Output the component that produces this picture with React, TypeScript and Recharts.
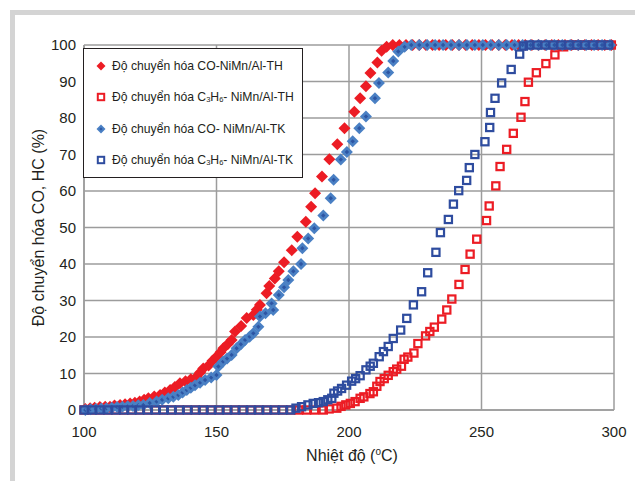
import React from "react";
import {
  ScatterChart,
  Scatter,
  XAxis,
  YAxis,
  CartesianGrid,
  Legend,
} from "recharts";

document.body.style.margin = "0";

// [temperature °C, conversion %]
const coTh: [number, number][] = [
  [100.5, 0.3], [102.3, 0.5], [104, 0.6], [106, 0.8], [108, 0.9], [109.8, 0.9],
  [111.5, 1.2], [113.6, 1.4], [115.5, 1.6], [117.4, 1.8], [119.2, 2.0], [121, 2.3],
  [122.7, 2.8], [124.3, 3.2], [126.5, 3.7], [128.7, 4.1], [130.5, 4.8], [132.5, 5.5],
  [134.3, 6.3], [136.2, 7.3], [138.3, 7.9], [140.3, 8.4], [142.5, 9.1], [143.8, 10.3],
  [145, 11.4], [147, 12.2], [148.5, 13.5], [150, 14.6], [151.5, 15.8], [152.6, 16.9],
  [154.3, 18.1], [155.7, 19.2], [157, 21.5], [159.3, 23], [161.4, 25.2], [163.9, 26],
  [165.2, 27.5], [166.4, 28.8], [168.9, 32], [169.9, 34], [172, 36], [173.5, 38],
  [175.5, 40.5], [178.4, 43.8], [180.5, 47.5], [183.7, 51.6], [185.7, 55.7], [187.2, 59.4],
  [189.8, 64], [192.6, 68.7], [195.6, 72.8], [198.3, 77.2], [202, 81.7], [204.2, 85.4],
  [206.4, 88.7], [208.1, 92.3], [210.7, 95.2], [212.3, 98.4], [214.2, 99.5], [216.5, 100],
  [219, 100], [221.5, 100], [224, 100], [226.5, 100], [229, 100], [231.5, 100],
  [234, 100], [236.5, 100], [239, 100], [241.5, 100], [244, 100], [246.5, 100],
  [249, 100], [251.5, 100], [254, 100], [256.5, 100], [259, 100], [261.5, 100],
  [264, 100], [266.5, 100], [269, 100], [271.5, 100], [274, 100], [276.5, 100],
  [279, 100], [281.5, 100], [284, 100], [286.5, 100], [289, 100], [291.5, 100],
  [294, 100], [296.5, 100], [299, 100],
];

const c3Th: [number, number][] = [
  [100, 0], [103, 0], [106, 0], [109, 0], [112, 0], [115, 0], [118, 0], [121, 0],
  [124, 0], [127, 0], [130, 0], [133, 0], [136, 0], [139, 0], [142, 0], [145, 0],
  [148, 0], [151, 0], [154, 0], [157, 0], [160, 0], [163, 0], [166, 0], [169, 0],
  [172, 0], [175, 0], [178, 0], [181, 0], [184, 0], [187, 0],
  [190.3, 0], [192.5, 0.3], [195.4, 0.5], [197, 1.0], [198.8, 1.4], [200.5, 1.8],
  [202.3, 2.3], [204.2, 3.2], [205.6, 3.6], [207.9, 4.5], [209.2, 5], [210.5, 6.5],
  [211.7, 7.8], [213.3, 8.6], [214.8, 9.5], [216.7, 10.5], [218, 11.2], [219.8, 12],
  [220.8, 13.9], [222.2, 14.5], [224.5, 15.6], [226, 18.2], [228.9, 20.3], [230.5, 21.5],
  [232.2, 22.7], [235, 24.9], [236.9, 27.4], [238.8, 30.4], [241.5, 34.4], [243.8, 38.5],
  [245.7, 42.7], [248.2, 46.8], [251.9, 51.9], [252.9, 55.9], [255.4, 61.4], [257, 66.7],
  [259.5, 71.4], [262, 75.8], [264.9, 80.2], [266.4, 84.5], [267.7, 89.8], [270.7, 92.4],
  [274.3, 94.9], [277.7, 97.3], [281, 99.5], [284, 100], [287, 100], [290, 100],
  [293, 100], [296, 100], [299, 100],
];

const coTk: [number, number][] = [
  [100.5, 0], [102.5, 0.2], [104.5, 0.3], [106.5, 0.4], [108.5, 0.5], [110.5, 0.6],
  [112.5, 0.8], [114.5, 0.9], [116.5, 1.0], [118.5, 1.1], [120.5, 1.3], [122.4, 1.4],
  [124.8, 1.9], [127.4, 2.3], [129.5, 2.8], [131.8, 3.2], [133.7, 3.6], [135.6, 4.1],
  [137.2, 4.8], [138.8, 5.5], [140.3, 6.1], [141.9, 6.8], [143.8, 7.5], [145.7, 8.2],
  [148, 8.9], [150, 9.6], [150.7, 11.9], [152.5, 13.3], [154, 14.1], [155.7, 15.1],
  [157.6, 16.9], [159.2, 18], [160.8, 19.2], [162.5, 20.1], [163.9, 21], [165.8, 22.8],
  [166.4, 25.6], [168.5, 26.5], [170.8, 29.2], [171.4, 27.4], [173.5, 31.5], [175.5, 33.6],
  [177.1, 35.6], [179, 38], [181.9, 40], [182.4, 44.3], [184.6, 47], [186.9, 49.8],
  [190.3, 53.3], [193.1, 58], [194.2, 63.1], [196.9, 68.6], [199.2, 70.7], [201.4, 73.6],
  [203.9, 77.2], [206.4, 80.4], [209.8, 85.4], [211.3, 89.6], [214.8, 92.5], [216.7, 95.6],
  [218.6, 98.2], [221, 99.5], [223.5, 100], [226.5, 100], [229.5, 100], [232.5, 100],
  [235.5, 100], [238.5, 100], [241.5, 100], [244.5, 100], [247.5, 100], [250.5, 100],
  [253.5, 100], [256.5, 100], [259.5, 100], [262.5, 100], [265.5, 100], [268.5, 100],
  [271.5, 100], [274.5, 100], [277.5, 100], [280.5, 100], [283.5, 100], [286.5, 100],
  [289.5, 100], [292.5, 100], [295.5, 100], [298.5, 100],
];

const c3Tk: [number, number][] = [
  [100, 0], [103, 0], [106, 0], [109, 0], [112, 0], [115, 0], [118, 0], [121, 0],
  [124, 0], [127, 0], [130, 0], [133, 0], [136, 0], [139, 0], [142, 0], [145, 0],
  [148, 0], [151, 0], [154, 0], [157, 0], [160, 0], [163, 0], [166, 0], [169, 0],
  [172, 0], [175, 0], [178, 0],
  [180, 0.5], [182.1, 0.9], [184.5, 1.4], [186.5, 1.8], [188.5, 2.0], [190.3, 2.3],
  [192, 2.8], [193.5, 3.2], [194.3, 4.6], [195.7, 5.2], [197.2, 5.9], [199.1, 6.8],
  [201, 7.9], [202.5, 8.6], [204.2, 9.4], [206.4, 11], [208, 12], [209.2, 12.8],
  [211.4, 14.6], [213, 16], [214.8, 17.4], [216.7, 19.6], [219.5, 21.9], [221.8, 25.1],
  [224.3, 28.8], [227.4, 32.4], [229.7, 37.6], [232.8, 43.2], [234.5, 48.6], [237.5, 52.2],
  [239.4, 56.4], [241.4, 60.1], [244.4, 62.9], [245.4, 66.4], [247.5, 70], [251.3, 73.5],
  [253.1, 77.4], [253.4, 81.5], [255.1, 85.4], [257.6, 89.6], [261.2, 93.3], [264.4, 97.5],
  [265.8, 99.7], [268, 100], [271, 100], [274, 100], [277, 100], [280, 100],
  [283, 100], [286, 100], [289, 100], [292, 100], [295, 100], [298, 100],
];

const xTicks = [100, 150, 200, 250, 300];
const yTicks = [0, 10, 20, 30, 40, 50, 60, 70, 80, 90, 100];

const RED = "#ec1c24";
const BLUE_LIGHT = "#4a80c4";
const BLUE_DARK = "#2d55a3";
const BLUE_SQ = "#2e4c9f";
const GRID = "#9c9c9c";
const TEXT = "#231f20";
const FONT = "'Liberation Sans', Arial, sans-serif";

const toPoints = (rows: [number, number][]) => rows.map(([t, v]) => ({ t, v }));

/* marker shapes */
function diamondPath(cx: number, cy: number, r: number) {
  return `${cx},${cy - r} ${cx + r},${cy} ${cx},${cy + r} ${cx - r},${cy}`;
}

const RedDiamond = (p: any) => (
  <polygon points={diamondPath(p.cx, p.cy, 6)} fill={RED} />
);

const BlueDiamond = (p: any) => (
  <g>
    <polygon points={diamondPath(p.cx, p.cy, 6)} fill={BLUE_LIGHT} />
    <polygon points={diamondPath(p.cx, p.cy, 2.2)} fill={BLUE_DARK} />
  </g>
);

const RedSquare = (p: any) => (
  <rect x={p.cx - 3.6} y={p.cy - 3.6} width={7.2} height={7.2} fill="none" stroke={RED} strokeWidth={2.2} />
);

const BlueSquare = (p: any) => (
  <rect x={p.cx - 3.6} y={p.cy - 3.6} width={7.2} height={7.2} fill="none" stroke={BLUE_SQ} strokeWidth={2.2} />
);

/* legend */
const Sub = ({ children }: { children: React.ReactNode }) => (
  <span style={{ fontSize: 7.5, position: "relative", top: 1 }}>{children}</span>
);

const legendRows = [
  { icon: "redDiamond", label: <>Độ chuyển hóa CO-NiMn/Al-TH</> },
  { icon: "redSquare", label: <>Độ chuyển hóa C<Sub>3</Sub>H<Sub>6</Sub>- NiMn/Al-TH</> },
  { icon: "blueDiamond", label: <>Độ chuyển hóa CO- NiMn/Al-TK</> },
  { icon: "blueSquare", label: <>Độ chuyển hóa C<Sub>3</Sub>H<Sub>6</Sub>- NiMn/Al-TK</> },
];

function LegendIcon({ kind }: { kind: string }) {
  return (
    <svg width={12} height={12} style={{ display: "block" }}>
      {kind === "redDiamond" && <polygon points={diamondPath(6, 6, 4.5)} fill={RED} />}
      {kind === "blueDiamond" && (
        <>
          <polygon points={diamondPath(6, 6, 4.5)} fill={BLUE_LIGHT} />
          <polygon points={diamondPath(6, 6, 1.6)} fill={BLUE_DARK} />
        </>
      )}
      {kind === "redSquare" && (
        <rect x={2.8} y={2.8} width={6.4} height={6.4} fill="none" stroke={RED} strokeWidth={2} />
      )}
      {kind === "blueSquare" && (
        <rect x={2.8} y={2.8} width={6.4} height={6.4} fill="none" stroke={BLUE_SQ} strokeWidth={2} />
      )}
    </svg>
  );
}

const LegendBox = () => (
  <div
    style={{
      width: 220,
      height: 130,
      boxSizing: "border-box",
      border: `1px solid ${TEXT}`,
      background: "#fff",
      paddingTop: 1,
      fontFamily: FONT,
      fontSize: 12.2,
      color: TEXT,
    }}
  >
    {legendRows.map((r, i) => (
      <div key={i} style={{ height: 31.5, display: "flex", alignItems: "center", whiteSpace: "nowrap" }}>
        <div style={{ marginLeft: 11, width: 12 }}>
          <LegendIcon kind={r.icon} />
        </div>
        <span style={{ marginLeft: 5 }}>{r.label}</span>
      </div>
    ))}
  </div>
);

/* axis titles */
const XTitle = ({ viewBox }: any) => {
  const cx = viewBox.x + viewBox.width / 2 + 3;
  const y = viewBox.y + 51;
  return (
    <text x={cx} y={y} textAnchor="middle" fontFamily={FONT} fontSize={16} fill={TEXT}>
      <tspan>Nhiệt độ (</tspan>
      <tspan fontSize={10} dy={-6}>o</tspan>
      <tspan dy={6}>C)</tspan>
    </text>
  );
};

const YTitle = ({ viewBox }: any) => {
  const cx = viewBox.x - 6;
  const cy = viewBox.y + viewBox.height / 2;
  return (
    <text
      x={cx}
      y={cy}
      transform={`rotate(-90 ${cx} ${cy})`}
      textAnchor="middle"
      dominantBaseline="central"
      fontFamily={FONT}
      fontSize={16}
      fill={TEXT}
    >
      Độ chuyển hóa CO, HC (%)
    </text>
  );
};

export default function App() {
  const tick = { fontSize: 15, fill: TEXT, fontFamily: FONT };
  return (
    <div style={{ position: "relative", width: 635, height: 481, background: "#fff", overflow: "hidden" }}>
      {/* light grey page frame */}
      <div
        style={{
          position: "absolute",
          left: 10,
          top: 10,
          right: -10,
          bottom: -10,
          borderTop: "5px solid #d4d4d4",
          borderLeft: "5px solid #d4d4d4",
        }}
      />
      <div style={{ position: "absolute", left: 0, top: 0 }}>
        <ScatterChart width={635} height={481} margin={{ top: 45, right: 21, bottom: 21, left: 44 }}>
          <CartesianGrid stroke={GRID} strokeWidth={1.5} horizontalValues={yTicks} verticalValues={xTicks} />
          <XAxis
            type="number"
            dataKey="t"
            domain={[100, 300]}
            ticks={xTicks}
            height={50}
            tick={tick}
            tickLine={false}
            tickMargin={10}
            axisLine={{ stroke: GRID, strokeWidth: 1.5 }}
            label={<XTitle />}
          />
          <YAxis
            type="number"
            dataKey="v"
            domain={[0, 100]}
            ticks={yTicks}
            width={40}
            tick={tick}
            tickLine={false}
            axisLine={{ stroke: GRID, strokeWidth: 1.5 }}
            label={<YTitle />}
          />
          <Legend
            layout="vertical"
            align="center"
            verticalAlign="middle"
            content={<LegendBox />}
            wrapperStyle={{ left: 83, top: 48, width: 220, height: 130 }}
          />
          <Scatter name="CO-NiMn/Al-TH" data={toPoints(coTh)} shape={RedDiamond} isAnimationActive={false} />
          <Scatter name="C3H6-NiMn/Al-TH" data={toPoints(c3Th)} shape={RedSquare} isAnimationActive={false} />
          <Scatter name="CO-NiMn/Al-TK" data={toPoints(coTk)} shape={BlueDiamond} isAnimationActive={false} />
          <Scatter name="C3H6-NiMn/Al-TK" data={toPoints(c3Tk)} shape={BlueSquare} isAnimationActive={false} />
        </ScatterChart>
      </div>
    </div>
  );
}
